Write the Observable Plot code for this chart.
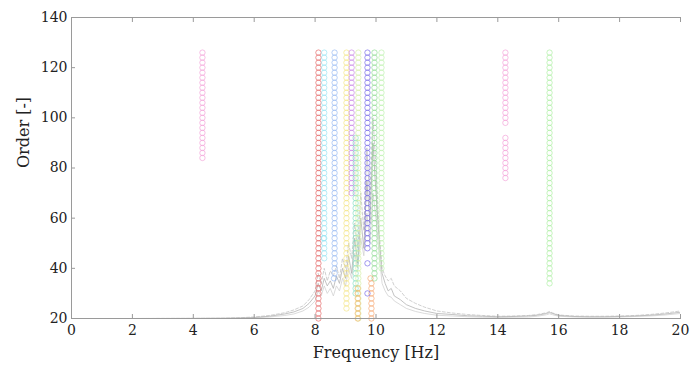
<!DOCTYPE html>
<html>
<head>
<meta charset="utf-8">
<script src="https://cdn.jsdelivr.net/npm/d3@7"></script>
<script src="https://cdn.jsdelivr.net/npm/@observablehq/plot@0.6"></script>
<style>
  html, body { margin: 0; padding: 0; background: #fff; }
  #chart svg { display: block; }
  #chart svg, #chart svg text { font-family: "DejaVu Serif", serif !important; }
</style>
</head>
<body>
<div id="chart"></div>
<script>
// Model orders (y) at which poles were computed
const ORDERS = [20,22,24,26,28,30,32,34,36,38,40,42,44,46,48,50,52,54,56,58,60,62,64,66,68,70,72,74,76,78,80,82,84,86,88,90,92,94,96,98,100,102,104,106,108,110,112,114,116,118,120,122,124,126];

// Stable pole columns: frequency [Hz], lowest and highest order, colour
const COL_FREQ  = [4.30, 8.11, 8.30, 8.64, 9.03, 9.20, 9.33, 9.42, 9.40, 9.72, 9.85, 9.95, 10.18, 14.25, 14.25, 15.70];
const COL_LO    = [84,   20,   44,   38,   24,   70,   30,   20,   20,   48,   20,   36,   40,    98,    76,    34];
const COL_HI    = [126,  126,  126,  126,  126,  126,  92,   126,  32,   126,  34,   126,  126,   126,   92,    126];
const COL_COLOR = ["#f29ad6","#e35b5b","#8fe3f2","#8fb4f0","#f2e27a","#c57ee6","#7fdcc0","#d3eea0","#f5b060","#6b5ce6","#f5a065","#86d98a","#b8f0a8","#f29ad6","#f29ad6","#a6ee9a"];

// Isolated poles
const ISO_FREQ  = [9.72, 9.72, 8.62, 9.82, 8.28];
const ISO_ORDER = [42,   30,   36,   36,   52];
const ISO_COLOR = ["#6b5ce6","#6b5ce6","#8fb4f0","#f5a065","#8fe3f2"];

// Averaged spectra (scaled onto the order axis)
const SPEC_F = [0,2,4,5,5.5,6,6.5,7,7.3,7.6,7.8,8.0,8.1,8.2,8.3,8.4,8.5,8.6,8.7,8.8,8.9,9.0,9.1,9.2,9.3,9.4,9.5,9.6,9.7,9.8,9.9,10.0,10.1,10.2,10.3,10.4,10.5,10.6,10.8,11,11.3,11.6,12,12.5,13,13.5,14,14.5,15,15.3,15.6,15.7,15.8,16,16.5,17,17.5,18,18.5,19,19.5,20];
const SPEC_A = [20,20,20.05,20.1,20.2,20.4,20.9,21.8,22.6,24,26,29,34,31,36,33,35,32,37,34,40,36,45,38,52,42,60,48,75,58,90,70,52,38,34,31,32,29,27.5,25.5,24,23,22,21.6,21.1,20.9,20.7,20.8,21,21.3,22,22.4,22,21.2,20.8,20.7,20.7,20.8,21,21.3,21.8,22.5];
const SPEC_B = [20,20,20.05,20.1,20.3,20.6,21.2,22.3,23.4,25,27.5,31,38,34,40,35,39,37,41,36,44,40,50,44,58,48,70,55,88,66,100,80,55,40,37,35,36,33,31,28,26,24.5,23,22.2,21.6,21.2,20.9,21,21.2,21.6,22.3,22.8,22.2,21.4,21,20.9,20.9,21,21.2,21.6,22.2,23];
const SPEC_C = [20,20,20,20.05,20.1,20.3,20.6,21.2,21.8,23,24.5,27,31,29,33,30,32,29,33,31,36,33,40,36,46,40,52,45,62,50,70,60,46,34,31,29,28.5,27,25.5,24,22.8,22,21.3,21,20.7,20.5,20.4,20.5,20.6,20.9,21.5,21.9,21.5,20.9,20.6,20.5,20.5,20.6,20.8,21,21.4,22];

// Tick labels
const X_TICKS = [0,2,4,6,8,10,12,14,16,18,20];
const Y_TICKS = [20,40,60,80,100,120,140];

// Build tables for the library
const poles = [];
COL_FREQ.forEach((f, i) => {
  ORDERS.forEach(o => {
    if (o >= COL_LO[i] && o <= COL_HI[i]) poles.push({f, o, c: COL_COLOR[i]});
  });
});
ISO_FREQ.forEach((f, i) => poles.push({f, o: ISO_ORDER[i], c: ISO_COLOR[i]}));

const spectra = [];
[[SPEC_A, "A"], [SPEC_B, "B"], [SPEC_C, "C"]].forEach(([vals, key]) => {
  SPEC_F.forEach((f, i) => spectra.push({f, v: vals[i], key}));
});

const font = "DejaVu Serif";
const axisColor = "#9a9a9a";

const chart = Plot.plot({
  width: 700,
  height: 367,
  marginLeft: 71,
  marginRight: 20,
  marginTop: 17,
  marginBottom: 49,
  style: {fontSize: "14px", color: "#222", background: "#fff"},
  x: {domain: [0, 20]},
  y: {domain: [20, 140]},
  marks: [
    Plot.line(spectra.filter(d => d.key === "C"), {x: "f", y: "v", stroke: "#d2d2d2", strokeWidth: 0.8, clip: true}),
    Plot.line(spectra.filter(d => d.key === "B"), {x: "f", y: "v", stroke: "#c4c4c4", strokeWidth: 0.8, strokeDasharray: "3,2", clip: true}),
    Plot.line(spectra.filter(d => d.key === "A"), {x: "f", y: "v", stroke: "#b4b4b4", strokeWidth: 0.8, clip: true}),
    Plot.dot(poles, {x: "f", y: "o", r: 2.7, stroke: "c", strokeWidth: 0.9, strokeOpacity: 0.7, fill: "none"}),
    Plot.frame({anchor: "bottom", stroke: axisColor}),
    Plot.frame({anchor: "top", stroke: axisColor}),
    Plot.frame({anchor: "left", stroke: axisColor}),
    Plot.axisX({ticks: X_TICKS, anchor: "bottom", tickSize: -4, tickPadding: 11, stroke: axisColor, label: null, fill: "#222", fontSize: 14, fontFamily: font}),
    Plot.axisX({ticks: X_TICKS, anchor: "top", tickSize: -4, text: null, stroke: axisColor, label: null}),
    Plot.axisY({ticks: Y_TICKS, anchor: "left", tickSize: -4, tickPadding: 8, stroke: axisColor, label: null, fill: "#222", fontSize: 14, fontFamily: font}),
    Plot.text(["Frequency [Hz]"], {frameAnchor: "bottom", dy: 39, fontSize: 16, fill: "#222", fontFamily: font}),
    Plot.text(["Order [-]"], {frameAnchor: "left", dx: -48, rotate: -90, fontSize: 16, fill: "#222", fontFamily: font})
  ]
});
document.getElementById("chart").appendChild(chart);
</script>
</body>
</html>
